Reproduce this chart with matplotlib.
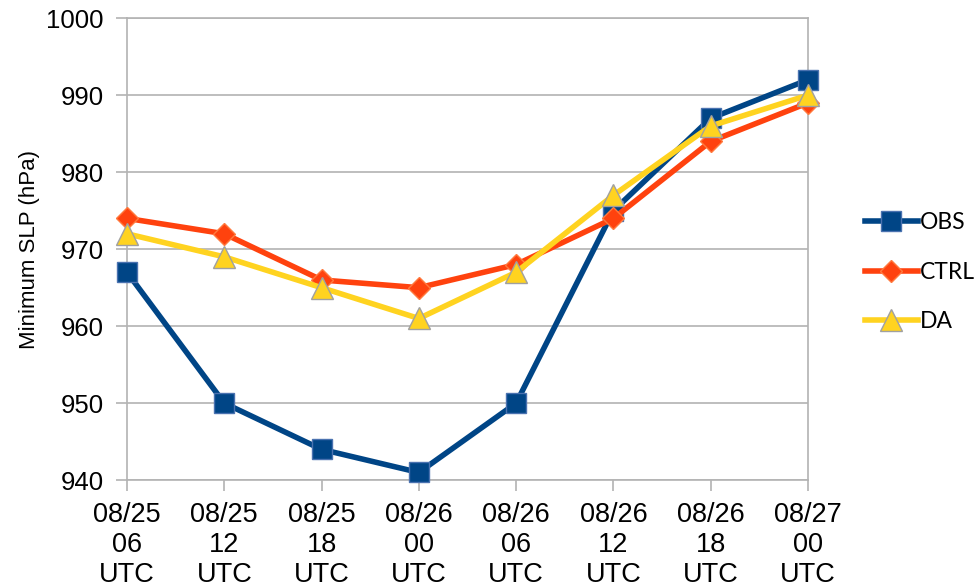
import matplotlib.pyplot as plt
import numpy as np

plt.rcParams['font.family'] = ['Liberation Sans', 'DejaVu Sans']

# Minimum sea-level pressure (hPa) at each analysis time
times = ['08/25\n06\nUTC', '08/25\n12\nUTC', '08/25\n18\nUTC', '08/26\n00\nUTC',
         '08/26\n06\nUTC', '08/26\n12\nUTC', '08/26\n18\nUTC', '08/27\n00\nUTC']
obs = [967, 950, 944, 941, 950, 975, 987, 992]
ctrl = [974, 972, 966, 965, 968, 974, 984, 989]
da = [972, 969, 965, 961, 967, 977, 986, 990]

fig = plt.figure(figsize=(9.77, 5.87), dpi=100)
ax = fig.add_axes([0.130, 0.182, 0.697, 0.787])

x = np.arange(len(times))
ax.plot(x, obs, '-', color='#004586', linewidth=4, marker='s', markersize=15,
        markerfacecolor='#004586', markeredgecolor='#4a72b0', markeredgewidth=1,
        label='OBS', zorder=3, clip_on=False)
ax.plot(x, ctrl, '-', color='#ff420e', linewidth=4, marker='D', markersize=11,
        markerfacecolor='#ff420e', markeredgecolor='#ff7a3e', markeredgewidth=1,
        label='CTRL', zorder=4, clip_on=False)
ax.plot(x, da, '-', color='#ffd320', linewidth=4, marker='^', markersize=16,
        markerfacecolor='#ffd320', markeredgecolor='#a0a0a0', markeredgewidth=1,
        label='DA', zorder=5, clip_on=False)

ax.set_xlim(0, len(times) - 1)
ax.set_ylim(940, 1000)
ax.set_yticks(np.arange(940, 1001, 10))
ax.set_xticks(x)
ax.set_xticklabels(times, fontsize=19.5, linespacing=1.2)
ax.tick_params(axis='y', labelsize=18.5, length=8, color='#b3b3b3', width=1.2, pad=9)
ax.tick_params(axis='x', length=8, color='#b3b3b3', width=1.2, pad=8)

ax.grid(axis='y', color='#b3b3b3', linewidth=1.2)
ax.set_axisbelow(True)
for s in ax.spines.values():
    s.set_color('#b3b3b3')
    s.set_linewidth(1.2)
    s.set_zorder(1)

ax.set_ylabel('Minimum SLP (hPa)', fontsize=16, labelpad=4)

ax.legend(loc='center left', bbox_to_anchor=(1.07, 0.45), frameon=False,
          prop={'family': 'Lato', 'size': 16.5}, handlelength=2.3,
          handletextpad=0.1, labelspacing=1.25, borderaxespad=0)

plt.savefig('out.png', dpi=100)
